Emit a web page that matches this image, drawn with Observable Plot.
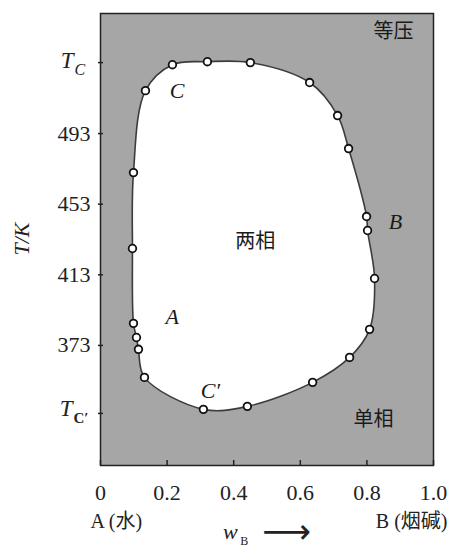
<!DOCTYPE html>
<html><head><meta charset="utf-8">
<script src="https://cdn.jsdelivr.net/npm/d3@7"></script>
<script src="https://cdn.jsdelivr.net/npm/@observablehq/plot@0.6"></script>
<style>body{margin:0;background:#fff;}</style>
</head><body>
<div id="chart"></div>
<script>
// measured points (w_B, T/K), in order around the two-phase loop
const ptW = [0.216,0.321,0.450,0.628,0.712,0.745,0.799,0.802,0.823,0.808,0.748,0.637,0.441,0.309,0.132,0.114,0.108,0.099,0.096,0.099,0.135];
const ptT = [532.0,533.7,533.2,521.9,503.2,484.5,446.0,438.1,410.9,382.1,366.2,352.1,338.5,336.8,354.9,370.8,377.5,385.5,427.9,470.9,517.3];
const xTicks = [0, 0.2, 0.4, 0.6, 0.8, 1.0];
const xTickLabels = ["0", "0.2", "0.4", "0.6", "0.8", "1.0"];
const yTicks = [334.5, 373, 413, 453, 493, 533.2];
const yNumTicks = [373, 413, 453, 493];
const TC = 533.2, TCp = 334.5;
const regionLabels = ["等压", "两相", "单相"];
const regionW = [0.88, 0.465, 0.82];
const regionT = [550.5, 432, 331];
const pointLabels = ["C", "A", "B", "C′"];
const pointLabelW = [0.23, 0.215, 0.886, 0.33];
const pointLabelT = [517.2, 389, 443, 347];

const pts = ptW.map((w, i) => ({w, T: ptT[i]}));
const serif = "Liberation Serif, Noto Sans CJK SC";

const chart = Plot.plot({
  width: 451, height: 552,
  marginLeft: 100, marginRight: 18, marginTop: 13, marginBottom: 87,
  x: {domain: [0, 1], label: null},
  y: {domain: [305, 561], label: null},
  style: {fontFamily: serif, background: "white", color: "#1a1a1a"},
  marks: [
    Plot.frame({fill: "#a6a6a6"}),
    Plot.line(pts, {x: "w", y: "T", curve: "catmull-rom-closed", fill: "white", stroke: "#3c3c3c", strokeWidth: 1.6}),
    Plot.dot(pts, {x: "w", y: "T", r: 3.8, fill: "white", stroke: "#111", strokeWidth: 1.8}),
    Plot.frame({stroke: "#222", strokeWidth: 1.5}),
    Plot.axisX(xTicks, {tickSize: -5, text: null, label: null, stroke: "#222", strokeWidth: 1.5}),
    Plot.axisX(xTicks, {tickSize: 0, tickPadding: 19, tickFormat: (d, i) => xTickLabels[i], fontSize: 22, letterSpacing: 1, label: null, fill: "#222"}),
    Plot.axisY(yTicks, {tickSize: 5, dx: 3, text: null, label: null, stroke: "#222", strokeWidth: 1.5}),
    Plot.axisY(yNumTicks, {tickSize: 0, tickPadding: 10, fontSize: 22, letterSpacing: 1.5, label: null, fill: "#222"}),
    // T_C and T_C'
    Plot.text([TC], {y: d => d, frameAnchor: "left", text: () => "T", dx: -27, dy: -2, textAnchor: "end", fontSize: 23, fontStyle: "italic", fill: "#222"}),
    Plot.text([TC], {y: d => d, frameAnchor: "left", text: () => "C", dx: -26, dy: 7, textAnchor: "start", fontSize: 16, fontStyle: "italic", fill: "#222"}),
    Plot.text([TCp], {y: d => d, frameAnchor: "left", text: () => "T", dx: -28, dy: -5, textAnchor: "end", fontSize: 23, fontStyle: "italic", fill: "#222"}),
    Plot.text([TCp], {y: d => d, frameAnchor: "left", text: () => "C′", dx: -27, dy: 5, textAnchor: "start", fontSize: 15, fontWeight: "bold", fill: "#222"}),
    // T/K axis title
    Plot.text(["T/K"], {frameAnchor: "left", dx: -79, dy: 16, rotate: -90, fontSize: 22, fontStyle: "italic", fill: "#222", text: d => d}),
    // region labels
    Plot.text(regionLabels, {x: (d, i) => regionW[i], y: (d, i) => regionT[i], text: d => d, fontSize: 20, letterSpacing: 6, fontFamily: "Noto Sans CJK SC", fill: "#1a1a1a"}),
    Plot.text(pointLabels, {x: (d, i) => pointLabelW[i], y: (d, i) => pointLabelT[i], text: d => d, fontSize: 22, fontStyle: "italic", fill: "#1a1a1a"}),
    // bottom labels
    Plot.text(["A (水)"], {x: 0, frameAnchor: "bottom", dy: 62, dx: -10, textAnchor: "start", fontSize: 20, text: d => d, fill: "#222"}),
    Plot.text(["B (烟碱)"], {x: 1, frameAnchor: "bottom", dy: 62, dx: 14, textAnchor: "end", fontSize: 20, text: d => d, fill: "#222"}),
    Plot.text(["w"], {x: 0.39, frameAnchor: "bottom", dy: 73, textAnchor: "middle", fontSize: 22, fontStyle: "italic", text: d => d, fill: "#222"}),
    Plot.text(["B"], {x: 0.39, frameAnchor: "bottom", dy: 79, dx: 14, textAnchor: "middle", fontSize: 12, text: d => d, fill: "#222"}),
    Plot.text(["⟶"], {x: 0.39, frameAnchor: "bottom", dy: 77, dx: 32, textAnchor: "start", fontSize: 34, fontFamily: "DejaVu Sans", text: d => d, fill: "#222"})
  ]
});
document.getElementById("chart").append(chart);
</script>
</body></html>
